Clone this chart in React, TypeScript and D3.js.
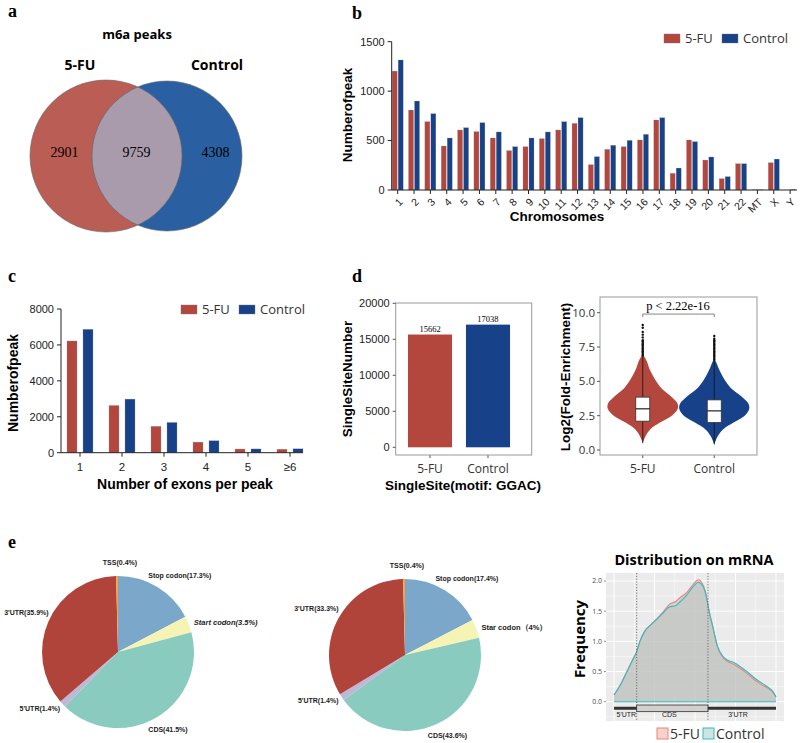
import React from "react";
import * as d3 from "d3";

const RED = "#b3463d";
const BLUE = "#17428a";
const SERIF = "Liberation Serif, Times New Roman, serif";
const SANS = "Liberation Sans, Arial, sans-serif";
const SOFT = "Open Sans, Noto Sans, sans-serif";

// ---- a: venn
const vennNames = ["5-FU", "Control"];
const vennCounts = [2901, 9759, 4308]; // only 5-FU, both, only Control

// ---- b: peaks per chromosome
const groups = ["5-FU", "Control"];
const chromosomes = ["1","2","3","4","5","6","7","8","9","10","11","12","13","14","15","16","17","18","19","20","21","22","MT","X","Y"];
const chrFU =   [1203, 809, 691, 445, 607, 590, 526, 398, 438, 519, 607, 674, 256, 411, 438, 506, 708, 169, 506, 303, 115, 266, 2, 276, 0];
const chrCtrl = [1315, 900, 772, 526, 630, 681, 587, 438, 526, 587, 691, 731, 337, 452, 502, 563, 731, 222, 489, 334, 135, 266, 2, 313, 5];

// ---- c: exons per peak
const exonBins = ["1", "2", "3", "4", "5", "≥6"];
const exonFU = [6220, 2630, 1470, 590, 205, 195];
const exonCtrl = [6870, 2985, 1685, 665, 210, 215];

// ---- d: single sites
const siteCounts = [15662, 17038];

// ---- d: violin (relative density at each level)
const fuLevels =   [0.5, 1.0, 1.5, 2.0, 2.5, 3.0, 3.4, 3.9, 4.4, 5.1, 5.8, 6.5, 6.9];
const fuDensity =  [0, 0.08, 0.21, 0.49, 0.83, 1.0, 0.99, 0.81, 0.57, 0.36, 0.21, 0.11, 0.02];
const ctlLevels =  [0.4, 1.0, 1.5, 2.0, 2.5, 3.0, 3.4, 3.9, 4.4, 5.1, 5.8, 6.3, 6.6];
const ctlDensity = [0, 0.1, 0.25, 0.55, 0.87, 1.0, 0.97, 0.78, 0.52, 0.3, 0.15, 0.07, 0.02];
const fuBox = [2.1, 3.0, 3.85];   // q1, median, q3
const ctlBox = [2.0, 2.85, 3.65];
const fuOutliers = [6.9, 7.0, 7.1, 7.2, 7.3, 7.4, 7.5, 7.6, 7.7, 7.8, 7.9, 8.0, 8.2, 8.4, 8.6, 8.9, 9.1];
const ctlOutliers = [6.6, 6.7, 6.8, 6.9, 7.0, 7.1, 7.2, 7.3, 7.4, 7.5, 7.6, 7.7, 7.8, 7.9, 8.0, 8.1, 8.3];

// ---- e: pies (clockwise from 12 o'clock)
const regionColors = ["#7ba8ca", "#f6f4b5", "#8acbc0", "#bdb7d8", "#b0443b", "#f4a23b"];
const pie1Labels = ["Stop codon(17.3%)", "Start codon(3.5%)", "CDS(41.5%)", "5'UTR(1.4%)", "3'UTR(35.9%)", "TSS(0.4%)"];
const pie1Values = [17.3, 3.5, 41.5, 1.4, 35.9, 0.4];
const pie2Labels = ["Stop codon(17.4%)", "Star codon\uFF084%\uFF09", "CDS(43.6%)", "5'UTR(1.4%)", "3'UTR(33.3%)", "TSS(0.4%)"];
const pie2Values = [17.4, 4, 43.6, 1.4, 33.3, 0.4];

// ---- e: distribution on mRNA
const mrnaPos = [0, 0.04, 0.08, 0.12, 0.14, 0.16, 0.19, 0.23, 0.27, 0.31, 0.34, 0.38, 0.41, 0.45, 0.49, 0.52, 0.545, 0.57, 0.585, 0.61, 0.64, 0.67, 0.70, 0.74, 0.78, 0.82, 0.86, 0.90, 0.94, 0.98, 1.0];
const mrnaCtrl = [0.11, 0.28, 0.5, 0.72, 0.83, 1.0, 1.17, 1.28, 1.38, 1.49, 1.57, 1.59, 1.66, 1.77, 1.91, 1.98, 1.93, 1.74, 1.52, 1.24, 0.91, 0.76, 0.69, 0.65, 0.58, 0.5, 0.41, 0.33, 0.26, 0.17, 0.08];
const mrnaFU =   [0.11, 0.28, 0.5, 0.72, 0.83, 1.0, 1.17, 1.28, 1.39, 1.51, 1.61, 1.66, 1.73, 1.81, 1.95, 2.02, 1.96, 1.76, 1.53, 1.24, 0.9, 0.74, 0.67, 0.62, 0.55, 0.47, 0.38, 0.3, 0.24, 0.16, 0.08];
const geneParts = ["5'UTR", "CDS", "3'UTR"];
const geneBounds = [0, 0.14, 0.58, 1];

function PanelLetter({ x, y, t }: { x: number; y: number; t: string }) {
  return <text x={x} y={y} fontFamily={SERIF} fontWeight="bold" fontSize={18}>{t}</text>;
}

function Venn() {
  const r = 76, cy = 156, cxL = 106, cxR = 167;
  const xs = [(cxL - r + cxR - r) / 2 + 4, (cxR - r + cxL + r) / 2, (cxL + r + cxR + r) / 2 + 3];
  return (
    <g>
      <PanelLetter x={8} y={17} t="a" />
      <text x={137} y={39} textAnchor="middle" fontFamily={SOFT} fontWeight="bold" fontSize={13}>m6a peaks</text>
      <text x={80} y={70} textAnchor="middle" fontFamily={SOFT} fontWeight="bold" fontSize={14}>{vennNames[0]}</text>
      <text x={217} y={70} textAnchor="middle" fontFamily={SOFT} fontWeight="bold" fontSize={14}>{vennNames[1]}</text>
      <defs>
        <clipPath id="vennL"><circle cx={cxL} cy={cy} r={r} /></clipPath>
      </defs>
      <circle cx={cxL} cy={cy} r={r} fill="#b95d55" />
      <circle cx={cxR} cy={cy} r={r - 1} fill="#2a5fa1" />
      <circle cx={cxR} cy={cy} r={r - 1} fill="#a99bab" clipPath="url(#vennL)" />
      <circle cx={cxL} cy={cy} r={r} fill="none" stroke="#6a6a6a" strokeWidth={0.6} />
      <circle cx={cxR} cy={cy} r={r - 1} fill="none" stroke="#6a6a6a" strokeWidth={0.6} />
      {vennCounts.map((c, i) => (
        <text key={i} x={xs[i]} y={157} textAnchor="middle" fontFamily={SERIF} fontSize={14}>{c}</text>
      ))}
    </g>
  );
}

function Legend({ x, y, size }: { x: number; y: number; size: number }) {
  return (
    <g fontFamily={SOFT} fontSize={size} fill="#333">
      <rect x={x} y={y} width={16} height={9} fill={RED} stroke="#777" strokeWidth={0.4} />
      <text x={x + 21} y={y + 9}>5-FU</text>
      <rect x={x + 58} y={y} width={16} height={9} fill={BLUE} stroke="#777" strokeWidth={0.4} />
      <text x={x + 79} y={y + 9}>Control</text>
    </g>
  );
}

function ChromosomeBars() {
  const y = d3.scaleLinear().domain([0, 1500]).range([190, 41.7]);
  const x = d3.scaleBand().domain(chromosomes).range([389.5, 798.3]);
  const sub = d3.scaleBand().domain(groups).range([-5.5, 5.5]).paddingInner(0.167);
  const x0 = 391.7;
  const mid = (c: string) => (x(c) as number) + x.bandwidth() / 2;
  return (
    <g fontFamily={SANS}>
      <PanelLetter x={352} y={19} t="b" />
      <Legend x={664} y={34} size={13} />
      {chromosomes.map((c, i) => (
        <g key={c}>
          {[chrFU[i], chrCtrl[i]].map((v, j) => (
            <rect key={j} x={mid(c) + (sub(groups[j]) as number)} y={y(v)} width={sub.bandwidth()}
              height={y(0) - y(v)} fill={j === 0 ? RED : BLUE} stroke="#999" strokeWidth={0.25} />
          ))}
          <line x1={mid(c)} x2={mid(c)} y1={190} y2={194} stroke="#222" />
          <text transform={`translate(${mid(c) + 3},${200}) rotate(-45)`} textAnchor="end" dy="0.35em" fontSize={10.5} fill="#222">{c}</text>
        </g>
      ))}
      <line x1={x0} x2={x0} y1={190} y2={y(1500)} stroke="#222" />
      <line x1={x0} x2={797} y1={190} y2={190} stroke="#222" />
      {y.ticks(3).map(t => (
        <g key={t}>
          <line x1={x0 - 4} x2={x0} y1={y(t)} y2={y(t)} stroke="#222" />
          <text x={x0 - 7} y={y(t)} dy="0.35em" textAnchor="end" fontSize={11} fill="#222">{t}</text>
        </g>
      ))}
      <text transform={`translate(352,115) rotate(-90)`} textAnchor="middle" fontWeight="bold" fontSize={13.5}>Numberofpeak</text>
      <text x={557} y={221} textAnchor="middle" fontWeight="bold" fontSize={13.5}>Chromosomes</text>
    </g>
  );
}

function ExonBars() {
  const y = d3.scaleLinear().domain([0, 8000]).range([452.7, 309]);
  const x = d3.scaleBand().domain(exonBins).range([59, 311]);
  const sub = d3.scaleBand().domain(groups).range([-13, 13]).paddingInner(0.375);
  const x0 = 61;
  const mid = (c: string) => (x(c) as number) + x.bandwidth() / 2;
  return (
    <g fontFamily={SANS}>
      <PanelLetter x={8} y={282} t="c" />
      <Legend x={181} y={305} size={13} />
      {exonBins.map((c, i) => (
        <g key={c}>
          {[exonFU[i], exonCtrl[i]].map((v, j) => (
            <rect key={j} x={mid(c) + (sub(groups[j]) as number)} y={y(v)} width={sub.bandwidth()}
              height={y(0) - y(v)} fill={j === 0 ? RED : BLUE} stroke="#999" strokeWidth={0.3} />
          ))}
          <line x1={mid(c)} x2={mid(c)} y1={y(0)} y2={y(0) + 4} stroke="#222" />
          <text x={mid(c)} y={y(0) + 18} textAnchor="middle" fontSize={11.5} fill="#222">{c}</text>
        </g>
      ))}
      <line x1={x0} x2={x0} y1={y(0)} y2={y(8000)} stroke="#222" />
      <line x1={x0} x2={303} y1={y(0)} y2={y(0)} stroke="#222" />
      {y.ticks(4).map(t => (
        <g key={t}>
          <line x1={x0 - 4} x2={x0} y1={y(t)} y2={y(t)} stroke="#222" />
          <text x={x0 - 7} y={y(t)} dy="0.35em" textAnchor="end" fontSize={11} fill="#222">{t}</text>
        </g>
      ))}
      <text transform={`translate(18,383) rotate(-90)`} textAnchor="middle" fontWeight="bold" fontSize={14}>Numberofpeak</text>
      <text x={185} y={489} textAnchor="middle" fontWeight="bold" fontSize={14}>Number of exons per peak</text>
    </g>
  );
}

function SiteBars() {
  const y = d3.scaleLinear().domain([0, 20000]).range([447.3, 303.3]);
  const x = d3.scaleBand().domain(groups).range([395, 523]).paddingInner(0.24).paddingOuter(0.2235);
  const fL = 395.7, fR = 531.7, fT = 303, fB = 455;
  return (
    <g fontFamily={SANS}>
      <PanelLetter x={352} y={282} t="d" />
      {groups.map((g, i) => (
        <g key={g}>
          <rect x={x(g)} y={y(siteCounts[i])} width={x.bandwidth()} height={y(0) - y(siteCounts[i])} fill={i === 0 ? RED : BLUE} />
          <text x={(x(g) as number) + x.bandwidth() / 2} y={y(siteCounts[i]) - 3} textAnchor="middle" fontFamily={SERIF} fontSize={8.5}>{siteCounts[i]}</text>
          <line x1={(x(g) as number) + x.bandwidth() / 2} x2={(x(g) as number) + x.bandwidth() / 2} y1={fB} y2={fB + 3} stroke="#555" />
          <text x={(x(g) as number) + x.bandwidth() / 2} y={473} textAnchor="middle" fontFamily={SOFT} fontSize={12} fill="#333">{g}</text>
        </g>
      ))}
      <rect x={fL} y={fT} width={fR - fL} height={fB - fT} fill="none" stroke="#999" />
      {y.ticks(4).map(t => (
        <g key={t}>
          <line x1={fL - 3} x2={fL} y1={y(t)} y2={y(t)} stroke="#555" />
          <text x={fL - 6} y={y(t)} dy="0.35em" textAnchor="end" fontSize={11} fill="#222">{t}</text>
        </g>
      ))}
      <text transform={`translate(352,379) rotate(-90)`} textAnchor="middle" fontWeight="bold" fontSize={13.5}>SingleSiteNumber</text>
      <text x={463} y={490} textAnchor="middle" fontWeight="bold" fontSize={13.5}>SingleSite(motif: GGAC)</text>
    </g>
  );
}

function Violins() {
  const y = d3.scaleLinear().domain([0, 10]).range([450, 312.7]);
  const x = d3.scalePoint().domain(groups).range([607, 750]).padding(0.5);
  const w = d3.scaleLinear().domain([0, 1]).range([0, 35]);
  const fL = 600, fR = 757, fT = 297, fB = 455;
  const sets = [
    { lv: fuLevels, dn: fuDensity, box: fuBox, out: fuOutliers, color: RED },
    { lv: ctlLevels, dn: ctlDensity, box: ctlBox, out: ctlOutliers, color: BLUE },
  ];
  const bw = 14;
  return (
    <g fontFamily={SOFT}>
      {sets.map((s, i) => {
        const cx = x(groups[i]) as number;
        const pts = s.lv.map((l, k) => [l, s.dn[k]]);
        const area = d3.area<number[]>()
          .y(d => y(d[0])).x0(d => cx - w(d[1])).x1(d => cx + w(d[1]))
          .curve(d3.curveCatmullRom);
        const top = s.lv[s.lv.length - 1];
        return (
          <g key={i}>
            <path d={area(pts) as string} fill={s.color} />
            <line x1={cx} x2={cx} y1={y(s.lv[0])} y2={y(top)} stroke="#111" strokeWidth={0.8} />
            {s.out.map((o, k) => <circle key={k} cx={cx} cy={y(o)} r={1.2} fill="#111" />)}
            <rect x={cx - bw / 2} y={y(s.box[2])} width={bw} height={y(s.box[0]) - y(s.box[2])} fill="#fff" stroke="#333" strokeWidth={0.8} />
            <line x1={cx - bw / 2} x2={cx + bw / 2} y1={y(s.box[1])} y2={y(s.box[1])} stroke="#222" strokeWidth={1.2} />
            <line x1={cx} x2={cx} y1={fB} y2={fB + 3} stroke="#555" />
            <text x={cx} y={473} textAnchor="middle" fontSize={12} fill="#333">{groups[i]}</text>
          </g>
        );
      })}
      <rect x={fL} y={fT} width={fR - fL} height={fB - fT} fill="none" stroke="#999" />
      {d3.range(0, 10.01, 2.5).map(t => (
        <g key={t}>
          <line x1={fL - 3} x2={fL} y1={y(t)} y2={y(t)} stroke="#555" />
          <text x={fL - 5} y={y(t)} dy="0.35em" textAnchor="end" fontSize={11.5} fill="#333">{d3.format(".1f")(t)}</text>
        </g>
      ))}
      <g stroke="#666" strokeWidth={0.8}>
        <line x1={x(groups[0])} x2={x(groups[1])} y1={y(9.9)} y2={y(9.9)} />
        <line x1={x(groups[0])} x2={x(groups[0])} y1={y(9.9)} y2={y(9.9) + 3} />
        <line x1={x(groups[1])} x2={x(groups[1])} y1={y(9.9)} y2={y(9.9) + 3} />
      </g>
      <text x={678} y={310} textAnchor="middle" fontFamily={SERIF} fontSize={12.5}>p &lt; 2.22e-16</text>
      <text transform={`translate(570,377) rotate(-90)`} textAnchor="middle" fontFamily={SANS} fontWeight="bold" fontSize={13.5}>Log2(Fold-Enrichment)</text>
    </g>
  );
}

const labelNudge = [[-13, -5], [-2, 1], [-12, 5], [3, -1], [7, -6], [3, -6]];

function Pie({ cx, cy, values, labels }: { cx: number; cy: number; values: number[]; labels: string[] }) {
  const r = 76;
  const arcs = d3.pie<number>().sort(null).value(d => d)(values);
  const arc = d3.arc<d3.PieArcDatum<number>>().innerRadius(0).outerRadius(r);
  return (
    <g transform={`translate(${cx},${cy})`} fontFamily={SANS} fontWeight="bold" fontSize={7}>
      {arcs.map((a, i) => <path key={i} d={arc(a) as string} fill={regionColors[i]} />)}
      {arcs.map((a, i) => {
        const m = (a.startAngle + a.endAngle) / 2;
        const lx = Math.sin(m) * r * 1.1 + labelNudge[i][0];
        const ly = -Math.cos(m) * r * 1.1 + labelNudge[i][1];
        const s = Math.sin(m);
        const anchor = Math.abs(s) < 0.05 ? "middle" : s > 0 ? "start" : "end";
        return (
          <text key={i} x={lx} y={ly} dy="0.35em" textAnchor={anchor} fill="#222"
            fontStyle={labels[i].startsWith("Start") ? "italic" : "normal"}
            fontSize={labels[i].startsWith("Sta") ? 7.5 : 7}>{labels[i]}</text>
        );
      })}
    </g>
  );
}

function MrnaDensity() {
  const x = d3.scaleLinear().domain([0, 1]).range([614, 776]);
  const y = d3.scaleLinear().domain([0, 2]).range([701.7, 581]);
  const pL = 606, pR = 784, pT = 573, pB = 721;
  const rows = mrnaPos.map((p, i) => ({ p, fu: mrnaFU[i], ct: mrnaCtrl[i] }));
  const area = (k: "fu" | "ct") => d3.area<typeof rows[0]>().x(d => x(d.p)).y0(y(0)).y1(d => y(d[k])).curve(d3.curveMonotoneX)(rows) as string;
  const line = (k: "fu" | "ct") => d3.line<typeof rows[0]>().x(d => x(d.p)).y(d => y(d[k])).curve(d3.curveMonotoneX)(rows) as string;
  const majorY = d3.range(0, 2.01, 0.5);
  const minorY = d3.range(-0.25, 2.1, 0.5);
  const majorX = d3.range(0, 1.01, 0.25);
  const minorX = d3.range(0.125, 1, 0.25);
  const yLine = -0.11;
  return (
    <g fontFamily={SOFT}>
      <text x={694} y={565} textAnchor="middle" fontWeight="bold" fontSize={14.5}>Distribution on mRNA</text>
      <rect x={pL} y={pT} width={pR - pL} height={pB - pT} fill="#ebebeb" />
      {minorY.map(t => <line key={"my" + t} x1={pL} x2={pR} y1={y(t)} y2={y(t)} stroke="#fff" strokeWidth={0.5} />)}
      {minorX.map(t => <line key={"mx" + t} x1={x(t)} x2={x(t)} y1={pT} y2={pB} stroke="#fff" strokeWidth={0.5} />)}
      {majorY.map(t => <line key={"Y" + t} x1={pL} x2={pR} y1={y(t)} y2={y(t)} stroke="#fff" strokeWidth={1} />)}
      {majorX.map(t => <line key={"X" + t} x1={x(t)} x2={x(t)} y1={pT} y2={pB} stroke="#fff" strokeWidth={1} />)}
      <path d={area("fu")} fill="#c9b9b3" fillOpacity={0.55} />
      <path d={area("ct")} fill="#b9c4c2" fillOpacity={0.55} />
      <path d={line("fu")} fill="none" stroke="#f08278" strokeWidth={1.1} />
      <path d={line("ct")} fill="none" stroke="#34bcc2" strokeWidth={1.1} />
      <line x1={x(0)} x2={x(1)} y1={y(0)} y2={y(0)} stroke="#34bcc2" strokeWidth={1.1} />
      {[geneBounds[1], geneBounds[2]].map(b => (
        <line key={b} x1={x(b)} x2={x(b)} y1={pT} y2={pB} stroke="#555" strokeWidth={0.8} strokeDasharray="1.2,1.6" />
      ))}
      <line x1={x(0)} x2={x(1)} y1={y(yLine)} y2={y(yLine)} stroke="#333" strokeWidth={3} />
      <rect x={x(geneBounds[1])} y={y(-0.055)} width={x(geneBounds[2]) - x(geneBounds[1])} height={y(-0.165) - y(-0.055)} fill="#d3cfcf" stroke="#333" strokeWidth={0.8} />
      {geneParts.map((g, i) => (
        <text key={g} x={x((geneBounds[i] + geneBounds[i + 1]) / 2) + (i === 0 ? 1 : i === 1 ? -3 : -4)} y={y(-0.255)} textAnchor="middle" fontFamily={SANS} fontSize={7} fill="#222">{g}</text>
      ))}
      {majorY.map(t => (
        <g key={t}>
          <line x1={pL - 2} x2={pL} y1={y(t)} y2={y(t)} stroke="#444" strokeWidth={0.6} />
          <text x={pL - 4} y={y(t)} dy="0.35em" textAnchor="end" fontSize={7} fill="#4d4d4d">{d3.format(".1f")(t)}</text>
        </g>
      ))}
      <text transform={`translate(585,639) rotate(-90)`} textAnchor="middle" fontWeight="bold" fontSize={15}>Frequency</text>
      <rect x={657} y={728} width={11} height={11} fill="#f5d3cd" stroke="#f08278" />
      <text x={670} y={739} fontSize={14} fill="#333">5-FU</text>
      <rect x={703} y={728} width={11} height={11} fill="#cfe3e2" stroke="#34bcc2" />
      <text x={716} y={739} fontSize={14} fill="#333">Control</text>
    </g>
  );
}

export default function App() {
  return (
    <svg width={800} height={743} style={{ position: "absolute", left: 0, top: 0, background: "#fff" }}>
      <Venn />
      <ChromosomeBars />
      <ExonBars />
      <SiteBars />
      <Violins />
      <PanelLetter x={8} y={548} t="e" />
      <Pie cx={118} cy={652} values={pie1Values} labels={pie1Labels} />
      <Pie cx={405} cy={655} values={pie2Values} labels={pie2Labels} />
      <MrnaDensity />
    </svg>
  );
}
